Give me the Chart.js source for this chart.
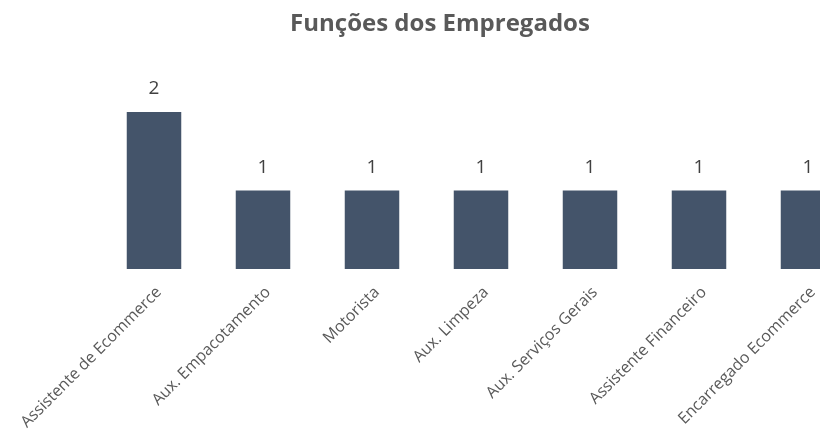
<!DOCTYPE html>
<html lang="pt-BR">
<head>
<meta charset="utf-8">
<title>Funções dos Empregados</title>
<script src="https://cdn.jsdelivr.net/npm/chart.js@4"></script>
<style>
  html, body { margin: 0; padding: 0; background: #ffffff; overflow: hidden; }
  #caixa { position: absolute; left: 0; top: 0; width: 880px; height: 430px; }
</style>
</head>
<body>
<div id="caixa"><canvas id="graficoFuncoes" width="880" height="430"></canvas></div>
<script>
// === Dados do gráfico ===
const funcoes = [
    "Assistente de Ecommerce",
    "Aux. Empacotamento",
    "Motorista",
    "Aux. Limpeza",
    "Aux. Serviços Gerais",
    "Assistente Financeiro",
    "Encarregado Ecommerce"
];
const quantidades = [2, 1, 1, 1, 1, 1, 1];

// Rótulos de valor acima de cada barra
const rotulosValores = {
    id: "rotulosValores",
    afterDatasetsDraw(chart) {
        const ctx = chart.ctx;
        const meta = chart.getDatasetMeta(0);
        ctx.save();
        ctx.fillStyle = "#404040";
        ctx.font = '19px "Open Sans"';
        ctx.textAlign = "center";
        ctx.textBaseline = "alphabetic";
        meta.data.forEach((barra, i) => {
            ctx.fillText(String(quantidades[i]), barra.x, barra.y - 18);
        });
        ctx.restore();
    }
};

// eixos invisíveis, só para reservar espaço nas laterais
const eixoOculto = (largura) => ({
    display: true,
    grid: { display: false },
    border: { display: false },
    ticks: { display: false },
    afterFit: (s) => { s.width = largura; }
});

new Chart(document.getElementById("graficoFuncoes"), {
    type: "bar",
    data: {
        labels: funcoes,
        datasets: [{
            label: "Quantidade",
            data: quantidades,
            backgroundColor: "#44546a",
            borderWidth: 0,
            barPercentage: 0.5,
            categoryPercentage: 1
        }]
    },
    options: {
        responsive: false,
        animation: false,
        layout: { padding: { top: 10, left: 0, right: 0, bottom: 0 } },
        plugins: {
            legend: { display: false },
            tooltip: { enabled: false },
            title: {
                display: true,
                text: "Funções dos Empregados",
                color: "#595959",
                font: { family: "Open Sans", size: 24, weight: "bold" },
                padding: { top: 0, bottom: 34 }
            }
        },
        scales: {
            x: {
                grid: { display: false },
                border: { display: false },
                ticks: {
                    color: "#595959",
                    font: { family: "Open Sans", size: 16 },
                    minRotation: 45,
                    maxRotation: 45,
                    autoSkip: false,
                    padding: 6,
                    labelOffset: 5
                },
                afterFit: (s) => { s.height = 161; }
            },
            y: Object.assign({ min: 0, max: 2.5, position: "left" }, eixoOculto(99.5)),
            y2: Object.assign({ type: "linear", axis: "y", position: "right", min: 0, max: 2.5 }, eixoOculto(17.5))
        }
    },
    plugins: [rotulosValores]
});
</script>
</body>
</html>
